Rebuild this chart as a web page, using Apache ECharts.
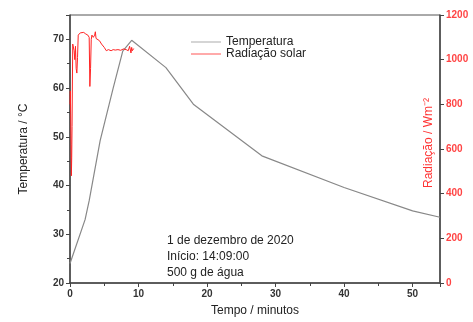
<!DOCTYPE html>
<html>
<head>
<meta charset="utf-8">
<script src="https://cdn.jsdelivr.net/npm/echarts@6/dist/echarts.min.js"></script>
<style>
  html, body { margin: 0; padding: 0; background: #fff; }
  #chart { width: 473px; height: 322px; }
</style>
</head>
<body>
<div id="chart"></div>
<script>
// Temperatura (°C) vs tempo (min)
const tempTime = [0, 2.2, 2.8, 4.4, 6.3, 7.7, 9.0, 14.0, 18.0, 28.0, 40.0, 50.0, 54.0];
const tempValues = [24, 33, 36.9, 49.2, 60, 67.6, 69.8, 64.2, 56.7, 46.1, 39.6, 34.8, 33.5];

// Radiação solar (W/m²) vs tempo (min)
const radTime = [0, 0.05, 0.1, 0.15, 0.2, 0.25, 0.3, 0.35, 0.4, 0.5, 0.6, 0.7, 0.8, 0.9, 1.0, 1.1, 1.2,
  1.3, 1.5, 1.7, 2.0, 2.3, 2.6, 2.8, 2.9, 3.0, 3.1, 3.2, 3.4, 3.6, 3.7, 3.8, 4.0, 4.3, 4.6, 5.0, 5.3,
  5.6, 6.0, 6.3, 6.6, 7.0, 7.4, 7.8, 8.2, 8.5, 8.7, 8.9, 9.0, 9.1, 9.3];
const radValues = [800, 860, 760, 620, 480, 560, 700, 900, 1070, 1075, 1040, 1000, 1060, 960, 940, 1010, 1110,
  1115, 1120, 1118, 1122, 1115, 1110, 1100, 880, 960, 1090, 1110, 1100, 1110, 1125, 1095, 1100, 1085, 1070, 1055, 1040,
  1045, 1040, 1045, 1043, 1045, 1042, 1048, 1045, 1040, 1060, 1030, 1055, 1040, 1050];

const xTicks = [0, 10, 20, 30, 40, 50];
const tempTicks = [20, 30, 40, 50, 60, 70];
const radTicks = [0, 200, 400, 600, 800, 1000, 1200];

const annotation = ['1 de dezembro de 2020', 'Início: 14:09:00', '500 g de água'];

const font = 'Liberation Sans, Arial, sans-serif';
const chart = echarts.init(document.getElementById('chart'));

chart.setOption({
  animation: false,
  textStyle: { fontFamily: font },
  grid: {
    left: 70, right: 33, top: 15, bottom: 39,
    outerBoundsMode: 'none',
    show: true, borderColor: '#555', borderWidth: 1
  },
  legend: {
    orient: 'vertical',
    left: 186, top: 31,
    itemWidth: 30, itemHeight: 1, itemGap: 0,
    icon: 'rect',
    textStyle: { fontSize: 12, color: '#222', fontFamily: font },
    data: [
      { name: 'Temperatura', itemStyle: { color: '#aaa' } },
      { name: 'Radiação solar', itemStyle: { color: '#ff5555' } }
    ]
  },
  xAxis: {
    type: 'value',
    min: 0, max: 54, interval: 10,
    name: 'Tempo / minutos',
    nameLocation: 'middle', nameGap: 22,
    nameTextStyle: { fontSize: 12, color: '#222' },
    axisLine: { lineStyle: { color: '#444', width: 1.5 } },
    axisTick: { lineStyle: { color: '#444' }, length: 4 },
    minorTick: { show: true, splitNumber: 2, length: 3, lineStyle: { color: '#444' } },
    splitLine: { show: false },
    axisLabel: {
      fontSize: 10, color: '#333', fontWeight: 'bold', margin: 6, showMaxLabel: false,
      formatter: v => xTicks.includes(v) ? String(v) : ''
    }
  },
  yAxis: [
    {
      type: 'value',
      min: 20, max: 75, interval: 10,
      name: 'Temperatura / °C',
      nameLocation: 'middle', nameGap: 40,
      nameTextStyle: { fontSize: 12, color: '#222' },
      axisLine: { show: true, lineStyle: { color: '#444', width: 1.5 } },
      axisTick: { lineStyle: { color: '#444' }, length: 4 },
      minorTick: { show: true, splitNumber: 2, length: 3, lineStyle: { color: '#444' } },
      splitLine: { show: false },
      axisLabel: {
        fontSize: 10, color: '#333', fontWeight: 'bold', margin: 6, showMaxLabel: false,
        formatter: v => tempTicks.includes(v) ? String(v) : ''
      }
    },
    {
      type: 'value',
      position: 'right',
      min: 0, max: 1200, interval: 200,
      axisLine: { show: true, lineStyle: { color: '#444', width: 1.5 } },
      axisTick: { lineStyle: { color: '#444' }, length: 4 },
      splitLine: { show: false },
      axisLabel: {
        fontSize: 10, color: '#ff4444', fontWeight: 'bold', margin: 6,
        formatter: v => radTicks.includes(v) ? String(v) : ''
      }
    }
  ],
  series: [
    {
      name: 'Temperatura',
      type: 'line',
      yAxisIndex: 0,
      showSymbol: false,
      lineStyle: { color: '#888', width: 1.2 },
      itemStyle: { color: '#888' },
      data: tempTime.map((t, i) => [t, tempValues[i]])
    },
    {
      name: 'Radiação solar',
      type: 'line',
      yAxisIndex: 1,
      showSymbol: false,
      lineStyle: { color: '#ff2222', width: 1 },
      itemStyle: { color: '#ff2222' },
      data: radTime.map((t, i) => [t, radValues[i]])
    }
  ],
  graphic: [
    ...annotation.map((txt, i) => ({
      type: 'text',
      left: 167, top: 235 + i * 16,
      style: { text: txt, fontSize: 12, fill: '#222', fontFamily: font }
    })),
    {
      // nome do eixo direito, fica por dentro da área do gráfico
      type: 'text',
      x: 429, y: 143,
      rotation: Math.PI / 2,
      style: {
        text: 'Radiação / Wm⁻²', fontSize: 12, fill: '#ff3333', fontFamily: font,
        align: 'center', verticalAlign: 'middle'
      }
    }
  ]
});
</script>
</body>
</html>
